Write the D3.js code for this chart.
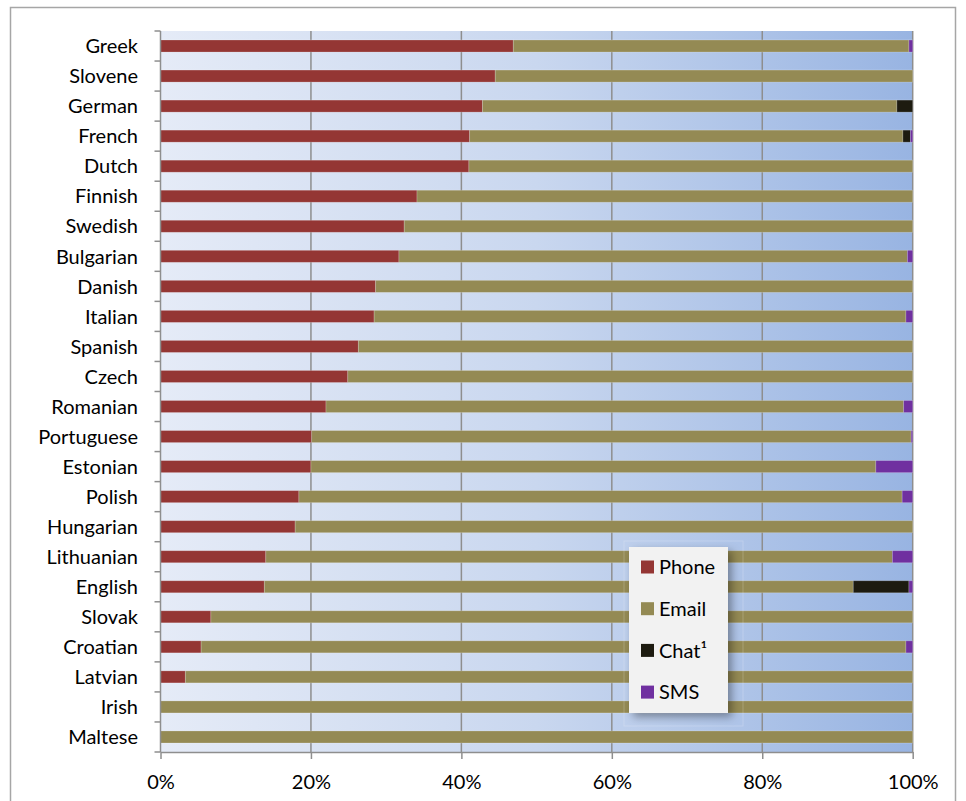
<!DOCTYPE html>
<html>
<head>
<meta charset="utf-8">
<script src="https://cdn.jsdelivr.net/npm/d3@7"></script>
<style>
  body { margin: 0; background: #fff; }
  svg { display: block; font-family: Lato, "Open Sans", sans-serif; }
</style>
</head>
<body>
<div id="chart"></div>
<script>
// values, in percent
const categories = ["Greek", "Slovene", "German", "French", "Dutch", "Finnish", "Swedish",
  "Bulgarian", "Danish", "Italian", "Spanish", "Czech", "Romanian", "Portuguese", "Estonian",
  "Polish", "Hungarian", "Lithuanian", "English", "Slovak", "Croatian", "Latvian", "Irish", "Maltese"];
const phone = [46.9, 44.5, 42.8, 41.1, 41.0, 34.1, 32.4, 31.7, 28.6, 28.4, 26.3, 24.9,
  22.0, 20.1, 20.0, 18.4, 17.9, 14.0, 13.8, 6.7, 5.4, 3.3, 0, 0];
const email = [52.6, 55.5, 55.1, 57.6, 59.0, 65.9, 67.6, 67.6, 71.4, 70.7, 73.7, 75.1,
  76.8, 79.7, 75.1, 80.2, 82.1, 83.3, 78.3, 93.3, 93.7, 96.7, 100, 100];
const chat = [0, 0, 2.1, 1.0, 0, 0, 0, 0, 0, 0, 0, 0,
  0, 0, 0, 0, 0, 0, 7.4, 0, 0, 0, 0, 0];
const sms = [0.5, 0, 0, 0.3, 0, 0, 0, 0.7, 0, 0.9, 0, 0,
  1.2, 0.2, 4.9, 1.4, 0, 2.7, 0.5, 0, 0.9, 0, 0, 0];
const seriesNames = ["Phone", "Email", "Chat¹", "SMS"];
const xTicks = [0, 20, 40, 60, 80, 100];

const colors = ["#943634", "#948a54", "#1d1b10", "#7030a0"];

const W = 966, H = 801;
const margin = {top: 31, left: 160.5, right: 53.3, bottom: 49};

const svg = d3.select("#chart").append("svg")
  .attr("width", W).attr("height", H);

// outer frame
svg.append("rect")
  .attr("x", 10.5).attr("y", 7.5).attr("width", 945).attr("height", 820)
  .attr("fill", "#fff").attr("stroke", "#a6a6a6").attr("stroke-width", 1.5);

const defs = svg.append("defs");
const grad = defs.append("linearGradient").attr("id", "bg")
  .attr("x1", "0%").attr("x2", "100%").attr("y1", "0%").attr("y2", "0%");
grad.append("stop").attr("offset", "0%").attr("stop-color", "#e5ebf7");
grad.append("stop").attr("offset", "50%").attr("stop-color", "#c9d7ef");
grad.append("stop").attr("offset", "100%").attr("stop-color", "#98b4e2");

const shadow = defs.append("filter").attr("id", "shadow")
  .attr("x", "-20%").attr("y", "-20%").attr("width", "150%").attr("height", "150%");
shadow.append("feDropShadow").attr("dx", 4).attr("dy", 4).attr("stdDeviation", 4)
  .attr("flood-color", "#000").attr("flood-opacity", 0.35);

const x = d3.scaleLinear().domain([0, 100]).range([margin.left, W - margin.right]);
const y = d3.scaleBand().domain(categories)
  .range([margin.top, H - margin.bottom])
  .paddingInner(0.6).paddingOuter(0.3);

// plot background
svg.append("rect")
  .attr("x", x(0)).attr("y", margin.top)
  .attr("width", x(100) - x(0)).attr("height", H - margin.bottom - margin.top)
  .attr("fill", "url(#bg)");

// gridlines
svg.append("g").selectAll("line")
  .data(xTicks.slice(1))
  .join("line")
    .attr("x1", d => x(d)).attr("x2", d => x(d))
    .attr("y1", margin.top).attr("y2", H - margin.bottom)
    .attr("stroke", "#8e8e8e").attr("stroke-width", 1.5);

// stacked bars
const rows = categories.map((c, i) => ({
  name: c, Phone: phone[i], Email: email[i], "Chat¹": chat[i], SMS: sms[i]
}));
const stacked = d3.stack().keys(seriesNames)(rows);

svg.append("g").selectAll("g")
  .data(stacked)
  .join("g")
    .attr("fill", (d, i) => colors[i])
  .selectAll("rect")
  .data(d => d.filter(p => p[1] - p[0] > 0))
  .join("rect")
    .attr("x", d => x(d[0]))
    .attr("y", d => y(d.data.name))
    .attr("width", d => x(d[1]) - x(d[0]))
    .attr("height", y.bandwidth())
    .attr("stroke", "#ffffff").attr("stroke-opacity", 0.25).attr("stroke-width", 0.8);

// category axis
const step = y.step();
const ax = svg.append("g");
ax.append("line")
  .attr("x1", x(0)).attr("x2", x(0))
  .attr("y1", margin.top).attr("y2", H - margin.bottom)
  .attr("stroke", "#8e8e8e").attr("stroke-width", 1.5);
ax.selectAll("line.tick")
  .data(d3.range(categories.length + 1))
  .join("line").attr("class", "tick")
    .attr("x1", x(0) - 6).attr("x2", x(0))
    .attr("y1", i => margin.top + i * step).attr("y2", i => margin.top + i * step)
    .attr("stroke", "#8e8e8e").attr("stroke-width", 1.5);
ax.selectAll("text")
  .data(categories)
  .join("text")
    .attr("x", 138)
    .attr("y", d => y(d) + y.bandwidth() / 2)
    .attr("dy", "0.36em")
    .attr("text-anchor", "end")
    .attr("font-size", 20)
    .attr("fill", "#000")
    .text(d => d);

// value axis
const xAxis = svg.append("g")
  .attr("transform", "translate(0," + (H - margin.bottom) + ")")
  .call(d3.axisBottom(x).tickValues(xTicks).tickFormat(d => d + "%").tickSize(7).tickSizeOuter(0));
xAxis.select(".domain").attr("stroke", "#8e8e8e").attr("stroke-width", 1.5);
xAxis.selectAll(".tick line").attr("stroke", "#8e8e8e").attr("stroke-width", 1.5);
xAxis.selectAll(".tick text")
  .attr("y", 37).attr("dy", 0)
  .attr("font-size", 20).attr("font-family", "Lato, 'Open Sans', sans-serif")
  .attr("fill", "#000");

// legend
const lg = svg.append("g");
lg.append("rect")
  .attr("x", 624).attr("y", 541).attr("width", 119).attr("height", 185)
  .attr("fill", "none").attr("stroke", "#ffffff").attr("stroke-opacity", 0.2);
lg.append("rect")
  .attr("x", 629).attr("y", 547).attr("width", 99).attr("height", 166)
  .attr("fill", "#f2f2f2").attr("filter", "url(#shadow)");
const item = lg.selectAll("g.item")
  .data(seriesNames)
  .join("g").attr("class", "item")
    .attr("transform", (d, i) => "translate(641," + (567 + i * 41.7) + ")");
item.append("rect")
  .attr("x", 0).attr("y", -6.5).attr("width", 13).attr("height", 13)
  .attr("fill", (d, i) => colors[i]);
item.append("text")
  .attr("x", 18).attr("dy", "0.36em")
  .attr("font-size", 20).attr("fill", "#000")
  .text(d => d);
</script>
</body>
</html>
